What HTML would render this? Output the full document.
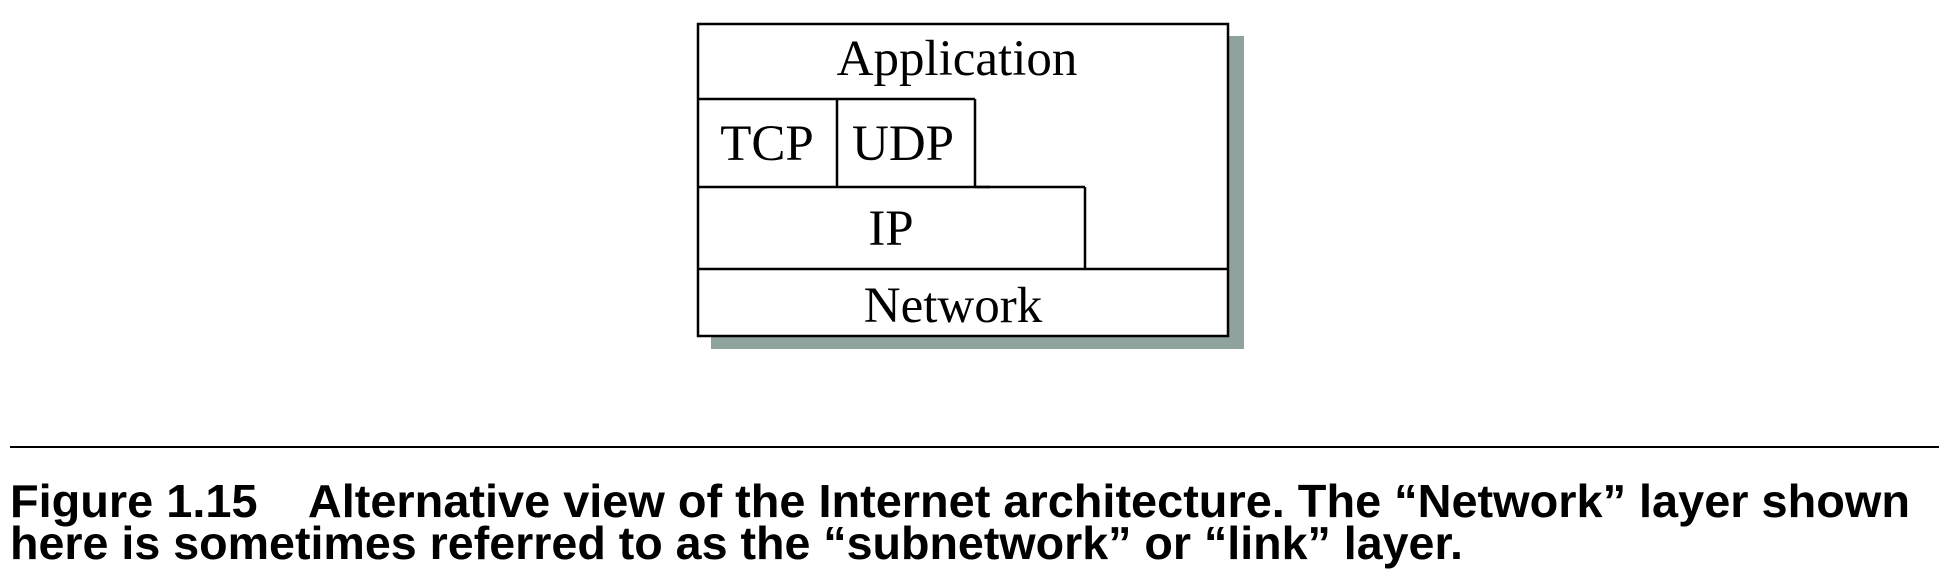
<!DOCTYPE html>
<html><head><meta charset="utf-8"><style>
html,body{margin:0;padding:0;background:#fff;width:1954px;height:586px;overflow:hidden}
text{white-space:pre}
</style></head><body>
<svg width="1954" height="586" viewBox="0 0 1954 586" xmlns="http://www.w3.org/2000/svg">
<rect x="711" y="36" width="533" height="313" fill="#8fa39e"/>
<rect x="698" y="24" width="530" height="312" fill="#fff" stroke="#000" stroke-width="2.5"/>
<g stroke="#000" stroke-width="2.5" fill="none">
<line x1="698" y1="99" x2="975" y2="99"/>
<line x1="837" y1="99" x2="837" y2="187"/>
<line x1="975" y1="99" x2="975" y2="187"/>
<line x1="975" y1="187" x2="990" y2="187"/>
<line x1="698" y1="187" x2="1085" y2="187"/>
<line x1="1085" y1="187" x2="1085" y2="269"/>
<line x1="698" y1="269" x2="1228" y2="269"/>
</g>
<g font-family="Liberation Serif, serif" font-size="51" fill="#000" text-anchor="middle">
<text x="957" y="75">Application</text>
<text x="767" y="160">TCP</text>
<text x="903" y="160">UDP</text>
<text x="891" y="245">IP</text>
<text x="953" y="322">Network</text>
</g>
<line x1="10" y1="447" x2="1939" y2="447" stroke="#000" stroke-width="2"/>
<g font-family="Liberation Sans, sans-serif" font-weight="bold" font-size="46" fill="#000">
<text x="10" y="517" textLength="1900" lengthAdjust="spacingAndGlyphs">Figure 1.15    Alternative view of the Internet architecture. The “Network” layer shown</text>
<text x="10" y="559" textLength="1453" lengthAdjust="spacingAndGlyphs">here is sometimes referred to as the “subnetwork” or “link” layer.</text>
</g>
</svg>
</body></html>
